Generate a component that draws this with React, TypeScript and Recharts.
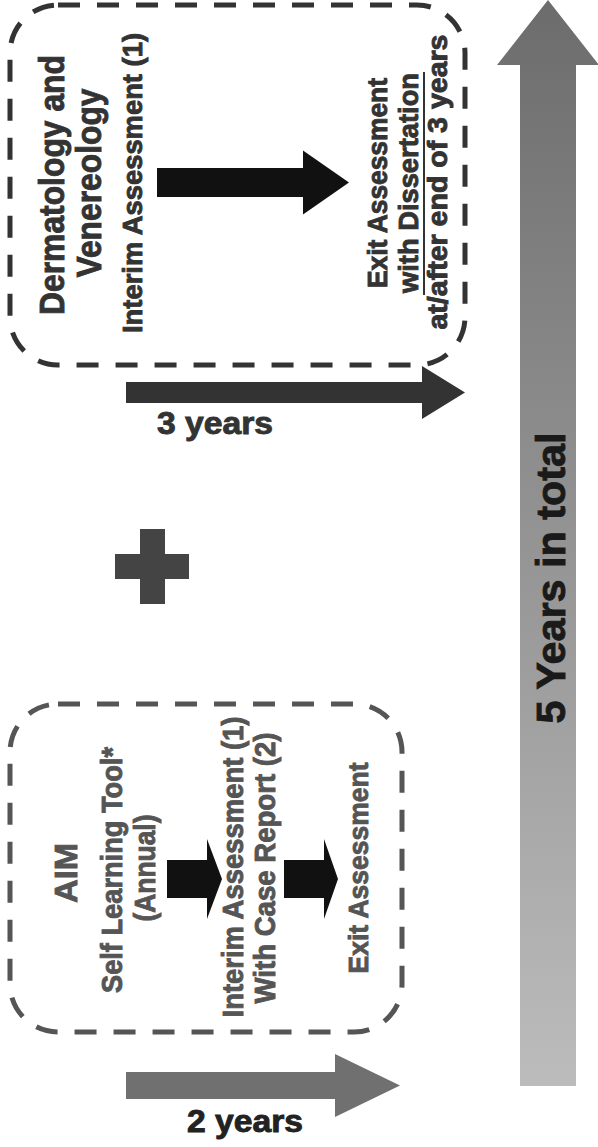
import React from 'react';
import { ComposedChart, XAxis, YAxis, ReferenceArea, ReferenceLine, Scatter } from 'recharts';

const W = 598;
const H = 1147;

// ---- dashed group boxes (diagram units) ----
const boxNames = ['Dermatology and Venereology', 'AIM'];
const boxX1 = [10, 10];
const boxX2 = [465, 402];
const boxY1 = [5, 704];
const boxY2 = [365, 1032];
const boxColors = ['#333333', '#555555'];

// ---- horizontal arrows ----
const hArrowNames = ['dv-step', '3 years', 'aim-step-1', 'aim-step-2', '2 years'];
const hArrowTail = [157, 126, 167, 284, 126];
const hArrowTip = [349, 465, 222, 338, 400];
const hArrowCenter = [182.5, 392.5, 879, 879, 1085.5];
const hArrowShaft = [29, 21, 38, 38, 27];
const hArrowHead = [64, 53, 80, 80, 63];
const hArrowHeadLen = [46, 43, 15, 14, 65];
const hArrowColors = ['#111111', '#333333', '#111111', '#111111', '#707070'];

// ---- vertical "total" arrow ----
const vArrowCenter = [548];
const vArrowTail = [1086];
const vArrowTip = [0];
const vArrowShaft = [56];
const vArrowHead = [102];
const vArrowHeadLen = [65];

// ---- plus sign bars ----
const plusX1 = [115, 140];
const plusX2 = [189, 165];
const plusY1 = [554, 529];
const plusY2 = [579, 604];

// ---- labels ----
const labelTexts = [
  'Dermatology and',
  'Venereology',
  'Interim Assessment (1)',
  'Exit Assessment',
  'with Dissertation',
  'at/after end of 3 years',
  '3 years',
  'AIM',
  'Self Learning Tool*',
  '(Annual)',
  'Interim Assessment (1)',
  'With Case Report (2)',
  'Exit Assessment',
  '2 years',
  '5 Years in total',
];
const labelX = [64, 101, 142, 387, 418, 447, 215, 77, 122, 155, 243, 275, 368, 245, 565];
const labelY = [185, 183, 183, 183, 183, 182, 434, 873, 870, 868, 867, 868, 868, 1132, 578];
const labelSize = [35, 35, 28, 28, 28, 28, 31, 32, 29, 29, 29, 29, 28, 31, 41];
const labelLen = [260, 189, 300, 210, 220, 295, 116, 60, 246, 107, 301, 271, 211, 116, 291];
const labelRot = [-90, -90, -90, -90, -90, -90, 0, -90, -90, -90, -90, -90, -90, 0, -90];
const labelColors = [
  '#333333', '#333333', '#333333', '#333333', '#333333', '#333333', '#333333',
  '#555555', '#555555', '#555555', '#555555', '#555555', '#555555', '#222222', '#1a1a1a',
];

// underline of "with Dissertation"
const underlineX = [424];
const underlineY1 = [72];
const underlineY2 = [295];

const labels = labelTexts.map((t, i) => ({
  x: labelX[i],
  y: labelY[i],
  text: t,
  size: labelSize[i],
  len: labelLen[i],
  rot: labelRot[i],
  color: labelColors[i],
}));

const FONT = '"Liberation Sans", Arial, Helvetica, sans-serif';

const LabelShape = (props: any) => {
  const { cx, cy, payload } = props;
  if (cx == null || cy == null || !payload) return <g />;
  return (
    <text
      x={cx}
      y={cy}
      transform={payload.rot ? `rotate(${payload.rot} ${cx} ${cy})` : undefined}
      textAnchor="middle"
      fontFamily={FONT}
      fontWeight="bold"
      fontSize={payload.size}
      fill={payload.color}
      stroke={payload.color}
      strokeWidth={0.9}
      textLength={payload.len}
      lengthAdjust="spacingAndGlyphs"
    >
      {payload.text}
    </text>
  );
};

const makeBoxShape = (color: string) => (props: any) => {
  const { x, y, width, height } = props;
  return (
    <rect
      x={x}
      y={y}
      width={width}
      height={height}
      rx={48}
      ry={48}
      fill="none"
      stroke={color}
      strokeWidth={5}
      strokeDasharray="22 17"
    />
  );
};

const makeHArrowShape = (shaftRatio: number, headLenRatio: number, color: string) => (props: any) => {
  const { x, y, width, height } = props;
  const cy = y + height / 2;
  const sh = (height * shaftRatio) / 2;
  const hx = x + width * (1 - headLenRatio);
  const pts = [
    [x, cy - sh],
    [hx, cy - sh],
    [hx, y],
    [x + width, cy],
    [hx, y + height],
    [hx, cy + sh],
    [x, cy + sh],
  ]
    .map((p) => p.join(','))
    .join(' ');
  return <polygon points={pts} fill={color} />;
};

const makeVArrowShape = (shaftRatio: number, headLenRatio: number) => (props: any) => {
  const { x, y, width, height } = props;
  const cx = x + width / 2;
  const sw = (width * shaftRatio) / 2;
  const hy = y + height * headLenRatio;
  const pts = [
    [cx, y],
    [x + width, hy],
    [cx + sw, hy],
    [cx + sw, y + height],
    [cx - sw, y + height],
    [cx - sw, hy],
    [x, hy],
  ]
    .map((p) => p.join(','))
    .join(' ');
  return (
    <g>
      <defs>
        <linearGradient id="totalGrad" x1="0" y1="0" x2="0" y2="1">
          <stop offset="0%" stopColor="#6c6c6c" />
          <stop offset="100%" stopColor="#bcbcbc" />
        </linearGradient>
      </defs>
      <polygon points={pts} fill="url(#totalGrad)" />
    </g>
  );
};

export default function App() {
  return (
    <div style={{ position: 'absolute', left: 0, top: 0, width: W, height: H, background: '#fff' }}>
      <ComposedChart width={W} height={H} margin={{ top: 0, right: 0, bottom: 0, left: 0 }}>
        <XAxis type="number" dataKey="x" domain={[0, W]} hide allowDataOverflow />
        <YAxis type="number" dataKey="y" domain={[0, H]} reversed hide allowDataOverflow />

        {vArrowCenter.map((c, i) => (
          <ReferenceArea
            key={`v${i}`}
            x1={c - vArrowHead[i] / 2}
            x2={c + vArrowHead[i] / 2}
            y1={vArrowTip[i]}
            y2={vArrowTail[i]}
            ifOverflow="visible"
            shape={makeVArrowShape(vArrowShaft[i] / vArrowHead[i], vArrowHeadLen[i] / (vArrowTail[i] - vArrowTip[i]))}
          />
        ))}

        {boxNames.map((n, i) => (
          <ReferenceArea
            key={n}
            x1={boxX1[i]}
            x2={boxX2[i]}
            y1={boxY1[i]}
            y2={boxY2[i]}
            ifOverflow="visible"
            shape={makeBoxShape(boxColors[i])}
          />
        ))}

        {hArrowNames.map((n, i) => (
          <ReferenceArea
            key={n}
            x1={hArrowTail[i]}
            x2={hArrowTip[i]}
            y1={hArrowCenter[i] - hArrowHead[i] / 2}
            y2={hArrowCenter[i] + hArrowHead[i] / 2}
            ifOverflow="visible"
            shape={makeHArrowShape(
              hArrowShaft[i] / hArrowHead[i],
              hArrowHeadLen[i] / (hArrowTip[i] - hArrowTail[i]),
              hArrowColors[i]
            )}
          />
        ))}

        {plusX1.map((v, i) => (
          <ReferenceArea
            key={`p${i}`}
            x1={v}
            x2={plusX2[i]}
            y1={plusY1[i]}
            y2={plusY2[i]}
            ifOverflow="visible"
            fill="#444444"
            fillOpacity={1}
            stroke="none"
          />
        ))}

        {underlineX.map((v, i) => (
          <ReferenceLine
            key={`u${i}`}
            segment={[
              { x: v, y: underlineY1[i] },
              { x: v, y: underlineY2[i] },
            ]}
            stroke="#333333"
            strokeWidth={2}
            ifOverflow="visible"
          />
        ))}

        <Scatter data={labels} dataKey="y" isAnimationActive={false} shape={LabelShape} />
      </ComposedChart>
    </div>
  );
}
